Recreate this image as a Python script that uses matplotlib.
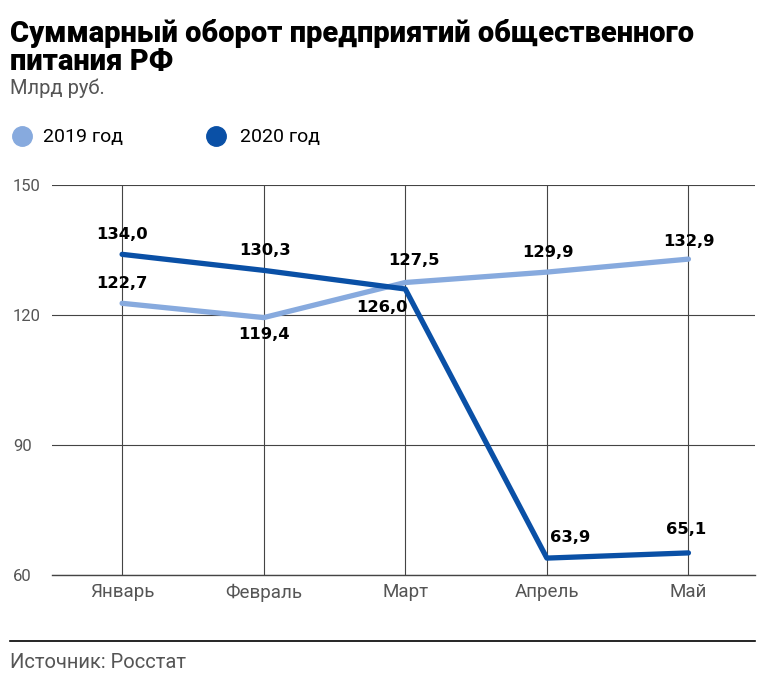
import matplotlib.pyplot as plt
from matplotlib.lines import Line2D

months = ['Январь', 'Февраль', 'Март', 'Апрель', 'Май']
y2019 = [122.7, 119.4, 127.5, 129.9, 132.9]
y2020 = [134.0, 130.3, 126.0, 63.9, 65.1]
yticks = [60, 90, 120, 150]

# label offsets in points (dx, dy)
off2019 = [(0, 14), (0, -12), (6, 16), (1, 14), (0, 13)]
off2020 = [(0, 14), (1, 14), (-17, -13), (17, 15), (-2, 17)]

c19 = '#87aade'
c20 = '#0a50a6'
grey = '#555555'

plt.rcParams['font.family'] = ['Roboto', 'DejaVu Sans']

fig = plt.figure(figsize=(7.72, 6.85), dpi=100)
ax = fig.add_axes([52 / 772, 110 / 685, 703 / 772, 390 / 685])

x = list(range(len(months)))
ax.plot(x, y2019, color=c19, lw=3.8, solid_capstyle='round', zorder=3)
ax.plot(x, y2020, color=c20, lw=3.8, solid_capstyle='round', zorder=4)

for xi, v, o in zip(x, y2019, off2019):
    ax.annotate(f'{v:.1f}'.replace('.', ','), (xi, v), xytext=o, textcoords='offset points',
                ha='center', va='center', fontsize=11.8, fontweight='bold',
                family='DejaVu Sans', color='black', zorder=5)
for xi, v, o in zip(x, y2020, off2020):
    ax.annotate(f'{v:.1f}'.replace('.', ','), (xi, v), xytext=o, textcoords='offset points',
                ha='center', va='center', fontsize=11.8, fontweight='bold',
                family='DejaVu Sans', color='black', zorder=5)

ax.set_xlim(-0.495, 4.47)
ax.set_ylim(60, 150)
ax.set_yticks(yticks)
ax.set_xticks(x)
ax.set_xticklabels(months)
ax.grid(True, color='#444444', lw=0.8)
ax.set_axisbelow(True)
for s in ['top', 'right', 'left']:
    ax.spines[s].set_visible(False)
ax.spines['bottom'].set_color('#444444')
ax.spines['bottom'].set_linewidth(1.0)
ax.tick_params(length=0, colors=grey, labelsize=13.5)
ax.tick_params(axis='y', pad=28, labelsize=12)
for lab in ax.get_yticklabels():
    lab.set_horizontalalignment('left')
ax.tick_params(axis='x', pad=6)

fig.text(10 / 772, 1 - 42 / 685, 'Суммарный оборот предприятий общественного',
         fontsize=21, fontweight='heavy', va='baseline', ha='left')
fig.text(10 / 772, 1 - 70 / 685, 'питания РФ',
         fontsize=21, fontweight='heavy', va='baseline', ha='left')
fig.text(10 / 772, 1 - 88 / 685, 'Млрд руб.', fontsize=14.5, color=grey, va='center')

fig.add_artist(Line2D([22 / 772], [1 - 136 / 685], marker='o', ms=14, color=c19, lw=0))
fig.text(43 / 772, 1 - 137 / 685, '2019 год', fontsize=14, va='center')
fig.add_artist(Line2D([216 / 772], [1 - 136 / 685], marker='o', ms=14, color=c20, lw=0))
fig.text(240 / 772, 1 - 137 / 685, '2020 год', fontsize=14, va='center')

fig.add_artist(Line2D([10 / 772, 755 / 772], [1 - 641 / 685] * 2, color='black', lw=1.2))
fig.text(10 / 772, 1 - 662 / 685, 'Источник: Росстат', fontsize=14.5, color=grey, va='center')

fig.savefig('out.png', dpi=100)
